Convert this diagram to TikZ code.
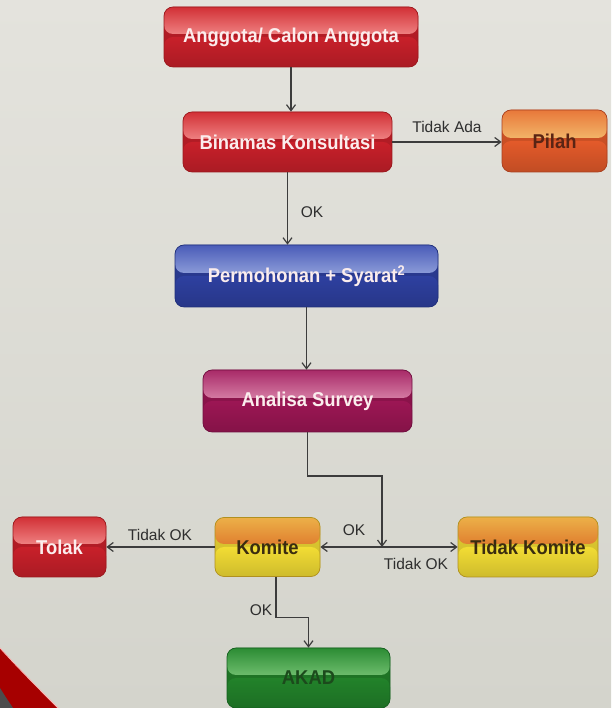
\documentclass[tikz,border=0pt]{standalone}
\usepackage{fontspec}
\setmainfont{Liberation Sans}
\newfontfamily\boxfont{Liberation Sans}[FakeStretch=0.92]
\usetikzlibrary{arrows.meta}
\definecolor{bgtop}{HTML}{E4E3DD}
\definecolor{bgbot}{HTML}{D4D4CC}
\definecolor{linec}{HTML}{3C3C3C}
\definecolor{labc}{HTML}{2E2E2E}
\definecolor{rA}{HTML}{D23036}\definecolor{rB}{HTML}{EE8080}\definecolor{rC}{HTML}{C8202A}\definecolor{rD}{HTML}{9A1A1E}
\definecolor{oA}{HTML}{E8783A}\definecolor{oB}{HTML}{F2B468}\definecolor{oC}{HTML}{E35A2A}\definecolor{oD}{HTML}{A84020}
\definecolor{bA}{HTML}{4A5CB8}\definecolor{bB}{HTML}{8A9AD8}\definecolor{bC}{HTML}{2E40A0}\definecolor{bD}{HTML}{20307A}
\definecolor{mA}{HTML}{A82A68}\definecolor{mB}{HTML}{D47AA2}\definecolor{mC}{HTML}{9C1654}\definecolor{mD}{HTML}{701040}
\definecolor{yA}{HTML}{ECB048}\definecolor{yB}{HTML}{E08030}\definecolor{yC}{HTML}{F2DC34}\definecolor{yD}{HTML}{B09020}
\definecolor{gA}{HTML}{2C8C34}\definecolor{gB}{HTML}{6CBC6C}\definecolor{gC}{HTML}{22822A}\definecolor{gD}{HTML}{166020}
\definecolor{pilahtxt}{HTML}{5A2414}
\definecolor{yeltxt}{HTML}{3A2C10}
\definecolor{greentxt}{HTML}{1C4A1C}
\definecolor{whitetxt}{HTML}{FBEDED}
\tikzset{
  box/.style={rounded corners=9pt, inner sep=0pt, minimum height=60pt,
    font=\boxfont\bfseries\fontsize{20}{22}\selectfont},
  gloss/.style n args={4}{draw=#4, line width=0.7pt,
    path picture={
      \shade[top color=#3!92!black, bottom color=#3!85!black]
        (path picture bounding box.south west) rectangle (path picture bounding box.north east);
      \shade[top color=#3, bottom color=#3!85!black]
        (path picture bounding box.west) rectangle (path picture bounding box.south east);
      \shade[top color=#1, bottom color=#2]
        (path picture bounding box.north west) rectangle ([yshift=3pt]path picture bounding box.east);
    }},
  redbox/.style={box, gloss={rA}{rB}{rC}{rD}, text=whitetxt},
  pilahbox/.style={box, gloss={oA}{oB}{oC}{oD}, text=pilahtxt},
  bluebox/.style={box, gloss={bA}{bB}{bC}{bD}, text=whitetxt},
  magbox/.style={box, gloss={mA}{mB}{mC}{mD}, text=whitetxt},
  yelbox/.style={box, gloss={yA}{yB}{yC}{yD}, text=yeltxt},
  greenbox/.style={box, gloss={gA}{gB}{gC}{gD}, text=greentxt},
  conn/.style={draw=linec, line width=1.2pt, -{Straight Barb[length=6pt,width=9pt,line width=1.2pt]}},
  lab/.style={inner sep=0pt, text=labc, font=\fontsize{15.5}{17}\selectfont}
}
\begin{document}
\begin{tikzpicture}[x=1pt,y=1pt]
\useasboundingbox (0,0) rectangle (611,708);
\shade[top color=bgtop, bottom color=bgbot] (0,0) rectangle (611,708);
% corner decoration
\fill[red!65!black] (0,60) .. controls (20,38) and (40,18) .. (58,0) -- (0,0) -- cycle;
\draw[red!30!white, line width=0.8pt] (0,60) .. controls (20,38) and (40,18) .. (58,0);
\fill[black!70] (0,20) .. controls (5,12) and (9,6) .. (13,0) -- (0,0) -- cycle;

\node[redbox, minimum width=254pt] (A) at (291,671) {Anggota/ Calon Anggota};
\node[redbox, minimum width=209pt] (B) at (287.5,566) {Binamas Konsultasi};
\node[pilahbox, minimum width=105pt, minimum height=62pt] (Pi) at (554.5,567) {Pilah};
\node[bluebox, minimum width=263pt, minimum height=62pt] (P) at (306.5,432) {Permohonan + Syarat\textsuperscript{2}};
\node[magbox, minimum width=209pt, minimum height=62pt] (An) at (307.5,307) {Analisa Survey};
\node[yelbox, minimum width=105pt, minimum height=59pt] (K) at (267.5,161) {Komite};
\node[yelbox, minimum width=140pt] (TK) at (528,161) {Tidak Komite};
\node[redbox, minimum width=93pt] (T) at (59.5,161) {Tolak};
\node[greenbox, minimum width=163pt] (AK) at (308.5,30) {AKAD};
\coordinate (J) at (382,161);

\draw[conn] (A.south) -- (A.south |- B.north);
\draw[conn] (B.east) -- (Pi.west |- B.east);
\draw[conn] (B.south) -- (B.south |- P.north);
\draw[conn] (P.south) -- (P.south |- An.north);
\draw[conn] (An.south) -- (An.south |- 0,232) -| (J);
\draw[conn] (J) -- (K.east);
\draw[conn] (J) -- (TK.west);
\draw[conn] (K.west) -- (T.east);
\draw[conn] ([xshift=8.5pt]K.south) -- ++(0,-41) -| (AK.north);

\node[lab] (l1) at (447,581) {Tidak Ada};
\node[lab] (l2) at (312,496) {OK};
\node[lab] (l3) at (354,178) {OK};
\node[lab] (l4) at (416,144) {Tidak OK};
\node[lab] (l5) at (160,173) {Tidak OK};
\node[lab] (l6) at (261,98) {OK};
\end{tikzpicture}
\end{document}
